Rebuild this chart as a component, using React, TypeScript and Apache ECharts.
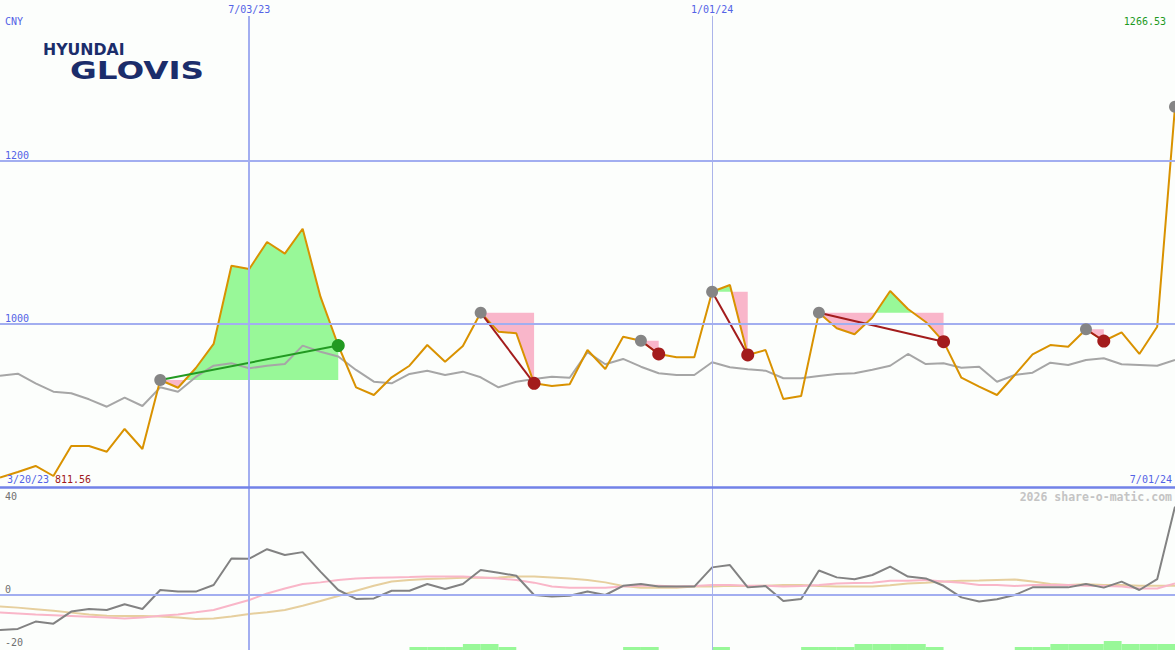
import React, { useEffect, useRef } from 'react';
import * as echarts from 'echarts';

// ---------- data ----------
const dates = [
  '3/27/23', '4/03/23', '4/10/23', '4/17/23', '4/24/23', '5/01/23', '5/08/23', '5/15/23', '5/22/23', '5/29/23',
  '6/05/23', '6/12/23', '6/19/23', '6/26/23', '7/03/23', '7/10/23', '7/17/23', '7/24/23', '7/31/23', '8/07/23',
  '8/14/23', '8/21/23', '8/28/23', '9/04/23', '9/11/23', '9/18/23', '9/25/23', '10/02/23', '10/09/23', '10/16/23',
  '10/23/23', '10/30/23', '11/06/23', '11/13/23', '11/20/23', '11/27/23', '12/04/23', '12/11/23', '12/18/23', '12/25/23',
  '1/01/24', '1/08/24', '1/15/24', '1/22/24', '1/29/24', '2/05/24', '2/12/24', '2/19/24', '2/26/24', '3/04/24',
  '3/11/24', '3/18/24', '3/25/24', '4/01/24', '4/08/24', '4/15/24', '4/22/24', '4/29/24', '5/06/24', '5/13/24',
  '5/20/24', '5/27/24', '6/03/24', '6/10/24', '6/17/24', '6/24/24', '7/01/24',
];

const price = [
  811.56, 818.4, 825.8, 813.5, 850.3, 850.3, 843.3, 871.2, 846.6, 931.3,
  921.8, 946.0, 975.5, 1071.5, 1067.5, 1100.6, 1086.3, 1116.9, 1033.5, 973.6,
  922.3, 912.9, 934.6, 948.8, 974.2, 953.7, 973.0, 1013.9, 990.6, 988.6,
  927.2, 923.9, 926.0, 968.1, 944.8, 984.4, 979.5, 963.2, 959.1, 959.1,
  1039.6, 1047.9, 962.0, 968.1, 908.0, 911.7, 1013.9, 994.7, 987.4, 1008.0,
  1040.5, 1018.4, 1002.5, 978.3, 934.1, 923.1, 912.9, 937.4, 962.8, 974.2,
  972.1, 993.5, 979.1, 989.8, 963.2, 996.7, 1266.53,
];

const average = [
  936.6, 939.0, 927.2, 916.9, 915.0, 907.6, 898.5, 909.6, 899.4, 922.3,
  916.9, 935.0, 948.8, 951.8, 945.6, 948.8, 950.9, 973.4, 966.0, 960.1,
  943.6, 929.2, 927.2, 938.7, 942.7, 937.4, 941.5, 934.6, 922.3, 929.2,
  932.5, 935.3, 934.1, 965.4, 950.6, 957.1, 947.6, 939.5, 937.4, 937.4,
  953.0, 946.9, 944.4, 942.7, 933.4, 933.4, 936.2, 938.7, 939.5, 943.9,
  948.8, 963.2, 950.9, 951.8, 946.4, 947.6, 929.2, 937.4, 940.2, 952.5,
  949.7, 955.8, 957.9, 950.6, 949.7, 948.8, 955.8,
];

const oscillator = [
  -13.3, -12.9, -10.1, -10.9, -6.3, -5.3, -5.7, -3.5, -5.3, 1.9,
  1.3, 1.3, 3.8, 13.9, 13.8, 17.4, 15.2, 16.3, 8.9, 1.9,
  -1.5, -1.3, 1.6, 1.6, 4.2, 2.3, 4.2, 9.5, 8.5, 7.3,
  0, -0.6, -0.3, 1.3, 0, 3.5, 4.2, 3.2, 3.2, 3.2,
  10.5, 11.4, 2.9, 3.4, -2.3, -1.5, 9.3, 6.7, 6.0, 7.6,
  10.8, 7.0, 6.3, 3.5, -0.9, -2.5, -1.6, 0, 2.9, 2.9,
  2.9, 4.2, 2.8, 5.1, 1.9, 6.0, 33.6,
];

const signalFast = [
  -6.7, -7.0, -7.4, -7.7, -8.0, -8.3, -8.6, -8.9, -8.6, -7.9,
  -7.4, -6.6, -5.7, -3.8, -1.9, 0.6, 2.5, 4.2, 4.8, 5.7,
  6.3, 6.6, 6.7, 6.8, 7.0, 7.0, 7.0, 6.7, 6.3, 5.7,
  4.7, 3.2, 2.8, 2.8, 2.8, 3.2, 3.5, 3.5, 3.2, 3.4,
  3.8, 3.8, 3.5, 3.5, 3.2, 3.4, 3.8, 4.4, 4.6, 4.7,
  5.4, 5.4, 5.7, 5.1, 4.7, 3.8, 3.8, 3.4, 3.8, 3.8,
  3.8, 3.5, 3.4, 3.2, 2.5, 2.5, 4.4,
];

const signalSlow = [
  -4.4, -4.8, -5.4, -6.0, -6.7, -7.4, -7.9, -8.0, -8.0, -8.2,
  -8.6, -9.1, -8.9, -8.2, -7.2, -6.6, -5.7, -4.1, -2.3, -0.4,
  1.6, 3.5, 5.1, 5.7, 6.1, 6.3, 6.6, 6.6, 6.7, 7.0,
  7.0, 6.7, 6.3, 5.7, 4.8, 3.4, 2.8, 2.8, 2.8, 3.2,
  3.2, 3.5, 3.4, 3.5, 3.8, 3.8, 3.4, 3.2, 3.2, 3.2,
  3.7, 4.4, 4.7, 5.1, 5.4, 5.5, 5.7, 5.9, 5.1, 4.2,
  3.8, 4.1, 3.8, 3.8, 3.5, 3.5, 3.5,
];

// strength bars, one per weekly interval (between point i and i+1)
const strengthBars = [
  0, 0, 0, 0, 0, 0, 0, 0, 0, 0,
  0, 0, 0, 0, 0, 0, 0, 0, 0, 0,
  0, 0, 0, 1, 1, 1, 2, 2, 1, 0,
  0, 0, 0, 0, 0, 1, 1, 0, 0, 0,
  1, 0, 0, 0, 0, 1, 1, 1, 2, 2,
  2, 2, 1, 0, 0, 0, 0, 1, 1, 2,
  2, 2, 3, 2, 2, 2,
];

// trade signals: [start index, end index]
const signals: [number, number][] = [
  [9, 19], [27, 30], [36, 37], [40, 42], [46, 53], [61, 62],
];
const openSignal = 66;

const priceTicks = [1000, 1200];
const lowerTickLabels = ['40', '0', '-20'];

// ---------- styles ----------
const BG = '#fcfefc';
const MONO = 'DejaVu Sans Mono';
const BLUE = '#5363e6';
const GRID_LIGHT = '#a2aef0';
const GREEN_FILL = '#98f898';
const PINK_FILL = '#f9b6ca';
const UP = '#229a22';
const DOWN = '#a31c1c';

function textEl(text: string, x: number, y: number, fill: string, align: string, font: string, extra: any = {}) {
  return {
    type: 'text',
    x,
    y,
    z: 100,
    silent: true,
    ...extra,
    style: {
      text,
      fill,
      font,
      align,
      textAlign: align,
      verticalAlign: 'middle',
      textVerticalAlign: 'middle',
    },
  };
}

export default function App() {
  const ref = useRef<HTMLDivElement>(null);

  useEffect(() => {
    if (!ref.current) return;
    const chart = echarts.init(ref.current, undefined, { renderer: 'svg' });

    const fillSeries = {
      type: 'custom',
      xAxisIndex: 0,
      yAxisIndex: 0,
      z: 1,
      silent: true,
      encode: { x: 0, y: 1 },
      data: signals.map(([s]) => [s, price[s]]),
      renderItem: (params: any, api: any) => {
        const [s, e] = signals[params.dataIndex];
        const L = price[s];
        const yL = api.coord([s, L])[1];
        const up: number[][] = [];
        const dn: number[][] = [];
        for (let i = s; i <= e; i++) {
          const p = api.coord([i, price[i]]);
          up.push([p[0], Math.min(p[1], yL)]);
          dn.push([p[0], Math.max(p[1], yL)]);
          if (i < e) {
            const a = price[i];
            const b = price[i + 1];
            if ((a - L) * (b - L) < 0) {
              const q = api.coord([i + 1, b]);
              const t = (L - a) / (b - a);
              const cx = p[0] + t * (q[0] - p[0]);
              up.push([cx, yL]);
              dn.push([cx, yL]);
            }
          }
        }
        const xs = api.coord([s, L])[0];
        const xe = api.coord([e, L])[0];
        up.push([xe, yL], [xs, yL]);
        dn.push([xe, yL], [xs, yL]);
        return {
          type: 'group',
          children: [
            { type: 'polygon', shape: { points: up }, style: { fill: GREEN_FILL } },
            { type: 'polygon', shape: { points: dn }, style: { fill: PINK_FILL } },
          ],
        };
      },
    };

    const barSeries = {
      type: 'custom',
      xAxisIndex: 1,
      yAxisIndex: 2,
      z: 1,
      silent: true,
      encode: { x: 0, y: 1 },
      data: strengthBars.map((v, i) => [i, v]),
      renderItem: (params: any, api: any) => {
        const i = params.dataIndex;
        const v = strengthBars[i];
        if (!v) return null;
        const p0 = api.coord([i, 0]);
        const p1 = api.coord([i + 1, v]);
        return {
          type: 'rect',
          shape: { x: p0[0], y: p1[1], width: p1[0] - p0[0], height: p0[1] - p1[1] },
          style: { fill: GREEN_FILL },
        };
      },
    };

    const signalLines = signals.map(([s, e]) => ({
      type: 'line',
      xAxisIndex: 0,
      yAxisIndex: 0,
      z: 4,
      silent: true,
      showSymbol: false,
      data: [[s, price[s]], [e, price[e]]],
      lineStyle: { color: price[e] >= price[s] ? UP : DOWN, width: 2 },
    }));

    const startPoints = signals.map(([s]) => [s, price[s]]).concat([[openSignal, price[openSignal]]]);
    const endPoints = signals.map(([s, e]) => ({
      value: [e, price[e]],
      itemStyle: { color: price[e] >= price[s] ? UP : DOWN, opacity: 1 },
    }));

    const markLineBase = {
      symbol: ['none', 'none'],
      silent: true,
      label: { show: false },
      emphasis: { disabled: true },
    };

    const option: any = {
      animation: false,
      backgroundColor: BG,
      grid: [
        { left: 0, right: 0, top: 0, height: 487 },
        { left: 0, right: 0, top: 487, height: 163 },
      ],
      xAxis: [
        {
          type: 'category',
          gridIndex: 0,
          data: dates,
          boundaryGap: false,
          position: 'top',
          axisLine: { show: false },
          axisTick: { show: false },
          splitLine: { show: false },
          axisLabel: {
            inside: true,
            interval: (i: number) => i === 14 || i === 40,
            color: BLUE,
            fontFamily: MONO,
            fontSize: 10,
            margin: 4,
          },
        },
        {
          type: 'category',
          gridIndex: 1,
          data: dates,
          boundaryGap: false,
          axisLine: { show: false },
          axisTick: { show: false },
          axisLabel: { show: false },
          splitLine: { show: false },
        },
      ],
      yAxis: [
        {
          type: 'value',
          gridIndex: 0,
          min: 800,
          max: 1397.5,
          interval: 200,
          axisLine: { show: false },
          axisTick: { show: false },
          splitLine: { show: false },
          axisLabel: {
            inside: true,
            verticalAlign: 'bottom',
            margin: 5,
            color: BLUE,
            fontFamily: MONO,
            fontSize: 10,
            formatter: (v: number) => (priceTicks.includes(v) ? String(v) : ''),
          },
        },
        {
          type: 'value',
          gridIndex: 1,
          min: -20.91,
          max: 41.06,
          axisLine: { show: false },
          axisTick: { show: false },
          axisLabel: { show: false },
          splitLine: { show: false },
        },
        {
          type: 'value',
          gridIndex: 1,
          min: 0,
          max: 54.33,
          axisLine: { show: false },
          axisTick: { show: false },
          axisLabel: { show: false },
          splitLine: { show: false },
        },
      ],
      series: [
        {
          type: 'line',
          xAxisIndex: 0,
          yAxisIndex: 0,
          z: 0,
          silent: true,
          showSymbol: false,
          data: average,
          lineStyle: { opacity: 0 },
          markLine: {
            ...markLineBase,
            data: [
              [{ coord: ['7/03/23', 1378] }, { coord: ['7/03/23', 800], lineStyle: { color: GRID_LIGHT, width: 2, type: 'solid' } }],
              [{ coord: ['1/01/24', 1378] }, { coord: ['1/01/24', 800], lineStyle: { color: '#abb4ea', width: 1, type: 'solid' } }],
              { yAxis: 1000, lineStyle: { color: GRID_LIGHT, width: 2, type: 'solid' } },
              { yAxis: 1200, lineStyle: { color: GRID_LIGHT, width: 2, type: 'solid' } },
            ],
          },
        },
        {
          type: 'line',
          xAxisIndex: 1,
          yAxisIndex: 1,
          z: 0,
          silent: true,
          showSymbol: false,
          data: oscillator,
          lineStyle: { opacity: 0 },
          markLine: {
            ...markLineBase,
            data: [
              [{ coord: ['7/03/23', 41.06] }, { coord: ['7/03/23', -20.91], lineStyle: { color: GRID_LIGHT, width: 2, type: 'solid' } }],
              [{ coord: ['1/01/24', 41.06] }, { coord: ['1/01/24', -20.91], lineStyle: { color: '#abb4ea', width: 1, type: 'solid' } }],
              { yAxis: 0, lineStyle: { color: GRID_LIGHT, width: 2, type: 'solid' } },
            ],
          },
        },
        fillSeries,
        barSeries,
        {
          type: 'line',
          xAxisIndex: 0,
          yAxisIndex: 0,
          z: 2,
          silent: true,
          showSymbol: false,
          data: average,
          lineStyle: { color: '#a6a6a6', width: 2 },
        },
        {
          type: 'line',
          xAxisIndex: 0,
          yAxisIndex: 0,
          z: 3,
          silent: true,
          showSymbol: false,
          data: price,
          lineStyle: { color: '#d99200', width: 2 },
          markLine: {
            ...markLineBase,
            data: [{ yAxis: 800, lineStyle: { color: '#7282e8', width: 2.5, type: 'solid' } }],
          },
        },
        ...signalLines,
        {
          type: 'scatter',
          xAxisIndex: 0,
          yAxisIndex: 0,
          z: 5,
          silent: true,
          symbol: 'circle',
          symbolSize: 12,
          data: startPoints,
          itemStyle: { color: '#858585', opacity: 1 },
        },
        {
          type: 'scatter',
          xAxisIndex: 0,
          yAxisIndex: 0,
          z: 5,
          silent: true,
          symbol: 'circle',
          symbolSize: 13,
          data: endPoints,
          itemStyle: { opacity: 1 },
        },
        {
          type: 'line',
          xAxisIndex: 1,
          yAxisIndex: 1,
          z: 2,
          silent: true,
          showSymbol: false,
          data: signalSlow,
          lineStyle: { color: '#e6cf9e', width: 2 },
        },
        {
          type: 'line',
          xAxisIndex: 1,
          yAxisIndex: 1,
          z: 3,
          silent: true,
          showSymbol: false,
          data: signalFast,
          lineStyle: { color: '#f9b6c8', width: 2 },
        },
        {
          type: 'line',
          xAxisIndex: 1,
          yAxisIndex: 1,
          z: 4,
          silent: true,
          showSymbol: false,
          data: oscillator,
          lineStyle: { color: '#828282', width: 2 },
        },
      ],
      graphic: [
        textEl('HYUNDAI', 43, 50.5, '#1b2d6b', 'left', 'bold 15px "DejaVu Sans"', { scaleX: 1.05 }),
        textEl('GLOVIS', 70, 71, '#1b2d6b', 'left', 'bold 24px "DejaVu Sans"', { scaleX: 1.36 }),
        textEl('CNY', 5, 21, BLUE, 'left', `10px "${MONO}"`),
        textEl('1266.53', 1166, 21, '#1e9a1e', 'right', `10px "${MONO}"`),
        textEl('3/20/23', 7, 479, BLUE, 'left', `10px "${MONO}"`),
        textEl('811.56', 55, 479, '#a01818', 'left', `10px "${MONO}"`),
        textEl('7/01/24', 1172, 479, BLUE, 'right', `10px "${MONO}"`),
        textEl('2026 share-o-matic.com', 1172, 496.5, '#c4c4c4', 'right', `bold 11.5px "${MONO}"`),
        textEl(lowerTickLabels[0], 5, 496, '#707070', 'left', `10px "${MONO}"`),
        textEl(lowerTickLabels[1], 5, 589, '#707070', 'left', `10px "${MONO}"`),
        textEl(lowerTickLabels[2], 5, 642, '#707070', 'left', `10px "${MONO}"`),
      ],
    };

    chart.setOption(option);
    return () => chart.dispose();
  }, []);

  return (
    <div
      ref={ref}
      style={{ position: 'fixed', left: 0, top: 0, width: 1175, height: 650 }}
    />
  );
}
